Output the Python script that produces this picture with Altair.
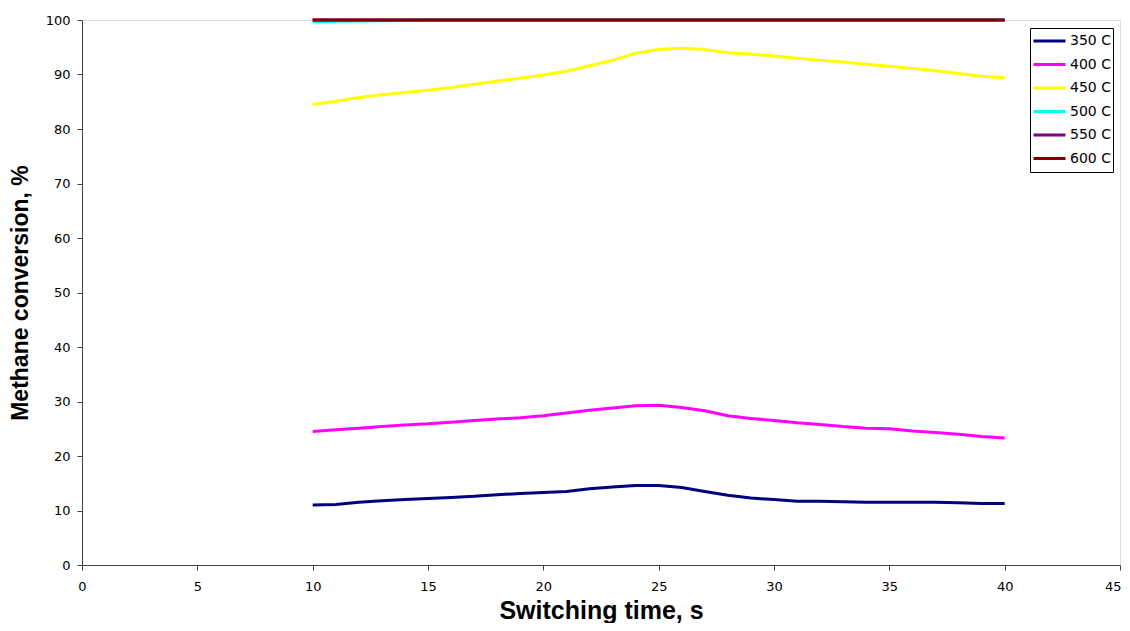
import altair as alt
import pandas as pd

time_s = [10, 11, 12, 13, 14, 15, 16, 17, 18, 19, 20, 21, 22, 23, 24, 25, 26, 27, 28, 29,
          30, 31, 32, 33, 34, 35, 36, 37, 38, 39, 40]

conv_350 = [11.0, 11.1, 11.5, 11.8, 12.0, 12.2, 12.4, 12.6, 12.9, 13.1, 13.3, 13.5, 14.0, 14.3,
            14.6, 14.6, 14.2, 13.5, 12.8, 12.3, 12.0, 11.7, 11.7, 11.6, 11.5, 11.5, 11.5, 11.5,
            11.4, 11.3, 11.3]
conv_400 = [24.5, 24.8, 25.1, 25.4, 25.7, 25.9, 26.2, 26.5, 26.8, 27.0, 27.4, 27.9, 28.4, 28.8,
            29.2, 29.3, 28.9, 28.3, 27.4, 26.9, 26.5, 26.1, 25.8, 25.4, 25.1, 25.0, 24.6, 24.3,
            24.0, 23.6, 23.3]
conv_450 = [84.5, 85.1, 85.8, 86.3, 86.7, 87.1, 87.6, 88.2, 88.8, 89.3, 89.9, 90.6, 91.6, 92.6,
            93.9, 94.6, 94.8, 94.6, 94.0, 93.7, 93.4, 93.0, 92.6, 92.3, 91.9, 91.5, 91.1, 90.7,
            90.2, 89.7, 89.4]
conv_500 = [99.7, 99.75, 99.8, 99.85, 99.9, 100, 100, 100, 100, 100, 100, 100, 100, 100, 100,
            100, 100, 100, 100, 100, 100, 100, 100, 100, 100, 100, 100, 100, 100, 100, 100]
conv_550 = [100.0] * 31
conv_600 = [100.0] * 31

series_names = ["350 C", "400 C", "450 C", "500 C", "550 C", "600 C"]
series_colors = ["#000080", "#FF00FF", "#FFFF00", "#00FFFF", "#800080", "#800000"]
series_values = [conv_350, conv_400, conv_450, conv_500, conv_550, conv_600]

x_ticks = list(range(0, 50, 5))
y_ticks = list(range(0, 110, 10))

rows = []
for order, (name, vals) in enumerate(zip(series_names, series_values)):
    for t, v in zip(time_s, vals):
        rows.append({"time": t, "conv": v, "series": name, "ord": order})
df = pd.DataFrame(rows)

LABEL_FONT = "DejaVu Sans"
TITLE_FONT = "Liberation Sans"

chart = alt.Chart(df).mark_line(strokeWidth=3, clip=False).encode(
    x=alt.X("time:Q",
            scale=alt.Scale(domain=[0, 45], nice=False, zero=False),
            axis=alt.Axis(title="Switching time, s", values=x_ticks,
                          grid=False, tickSize=5, labelPadding=10, titlePadding=5,
                          labelFontSize=13, titleFontSize=25, labelFont=LABEL_FONT,
                          titleFont=TITLE_FONT, titleFontWeight="bold",
                          domainColor="#404040", tickColor="#404040",
                          labelColor="#000000", titleColor="#000000", labelFlush=False,
                          labelAlign=alt.condition("datum.value == 45", alt.value("right"),
                                                   alt.value("center")),
                          labelOffset=alt.condition("datum.value == 45", alt.value(1),
                                                    alt.value(0)))),
    y=alt.Y("conv:Q",
            scale=alt.Scale(domain=[0, 100], nice=False),
            axis=alt.Axis(title="Methane conversion, %", values=y_ticks,
                          grid=False, tickSize=5, labelPadding=7, titlePadding=13,
                          labelFontSize=13, titleFontSize=23, labelFont=LABEL_FONT,
                          titleFont=TITLE_FONT, titleFontWeight="bold",
                          domainColor="#404040", tickColor="#404040",
                          labelColor="#000000", titleColor="#000000")),
    color=alt.Color("series:N",
                    scale=alt.Scale(domain=series_names, range=series_colors),
                    legend=alt.Legend(title=None, orient="none", legendX=948, legendY=8,
                                      symbolType="stroke", symbolSize=1024, symbolStrokeWidth=3,
                                      labelFont=LABEL_FONT, labelFontSize=14,
                                      labelColor="#000000",
                                      strokeColor="#000000", fillColor="#FFFFFF",
                                      padding=2, rowPadding=1.5, clipHeight=22,
                                      labelOffset=3, symbolOffset=0)),
    order=alt.Order("ord:Q"),
    detail="series:N",
).properties(
    width=1038,
    height=545,
    autosize=alt.AutoSizeParams(type="none"),
    padding={"left": 74, "top": 12, "right": 2, "bottom": 58},
).configure_view(
    stroke="#A0A0A0", strokeWidth=1
).configure(background="white")

chart.save("out.html", embed_options={"renderer": "svg", "actions": False})
